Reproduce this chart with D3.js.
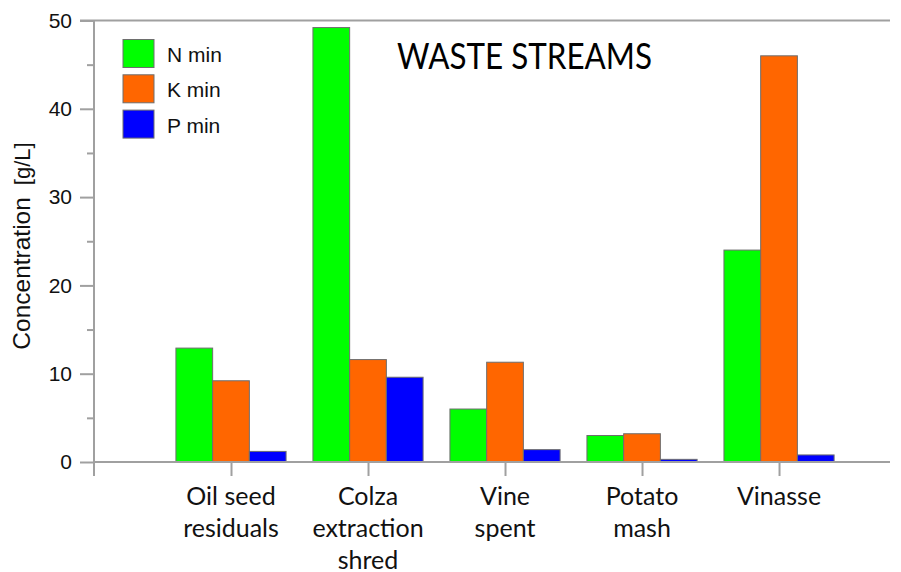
<!DOCTYPE html>
<html><head><meta charset="utf-8">
<script src="https://cdn.jsdelivr.net/npm/d3@7"></script>
<style>body{margin:0;background:#fff}svg{display:block}</style>
</head><body>
<svg id="c" width="901" height="572"></svg>
<script>
const categories = [["Oil seed","residuals"],["Colza","extraction","shred"],["Vine","spent"],["Potato","mash"],["Vinasse"]];
const seriesNames = ["N min","K min","P min"];
const seriesColors = ["#00ff00","#ff6600","#0000ff"];
const nMin = [12.9, 49.2, 6.0, 3.0, 24.0];
const kMin = [9.2, 11.6, 11.3, 3.2, 46.0];
const pMin = [1.2, 9.6, 1.4, 0.3, 0.8];
const yTicks = [0,10,20,30,40,50];
const yMinorTicks = [5,15,25,35,45];
const title = "WASTE STREAMS";
const yLabel = "Concentration";
const yUnit = "[g/L]";

const series = [nMin, kMin, pMin];
const svg = d3.select("#c");
const x = d3.scaleLinear().domain([0, 5.81]).range([94, 890]);
const y = d3.scaleLinear().domain([0, 50]).range([462, 20.5]);
const axisColor = "#a0a0a0";
const slot = x(1) - x(0);
const bw = slot * 0.268;

// top frame line
svg.append("line").attr("x1", 80).attr("x2", x(5.81)).attr("y1", y(50)).attr("y2", y(50))
  .attr("stroke", axisColor).attr("stroke-width", 2);

// bars
series.forEach((vals, s) => {
  svg.append("g").selectAll("rect").data(vals).join("rect")
    .attr("x", (d, i) => x(i + 1) - 1.5 * bw + s * bw)
    .attr("width", bw)
    .attr("y", d => y(d))
    .attr("height", d => y(0) - y(d))
    .attr("fill", seriesColors[s])
    .attr("stroke", "#6e6e6e").attr("stroke-width", 1);
});

// y axis
const yAxis = d3.axisLeft(y).tickValues(yTicks).tickSize(14).tickPadding(8).tickFormat(d3.format("d"));
const gy = svg.append("g").attr("transform", `translate(${x(0)},0)`).call(yAxis);
gy.select(".domain").remove();
gy.selectAll(".tick line").attr("stroke", axisColor).attr("stroke-width", 2);
gy.selectAll(".tick text").attr("font-family", "Liberation Sans, Arial, sans-serif").attr("font-size", 21).attr("fill", "#111");
const yAxisMinor = d3.axisLeft(y).tickValues(yMinorTicks).tickSize(7).tickFormat("");
const gym = svg.append("g").attr("transform", `translate(${x(0)},0)`).call(yAxisMinor);
gym.select(".domain").remove();
gym.selectAll(".tick line").attr("stroke", axisColor).attr("stroke-width", 2);
svg.append("line").attr("x1", x(0)).attr("x2", x(0)).attr("y1", y(50)).attr("y2", y(0) + 14)
  .attr("stroke", axisColor).attr("stroke-width", 2);

// x axis
svg.append("line").attr("x1", x(0)).attr("x2", x(5.81)).attr("y1", y(0)).attr("y2", y(0))
  .attr("stroke", axisColor).attr("stroke-width", 2);
const gx = svg.append("g").attr("transform", `translate(0,${y(0)})`)
  .call(d3.axisBottom(x).tickValues([1,2,3,4,5]).tickSize(14).tickFormat(""));
gx.select(".domain").remove();
gx.selectAll(".tick line").attr("stroke", axisColor).attr("stroke-width", 2);

// category labels
categories.forEach((lines, i) => {
  const t = svg.append("text").attr("text-anchor", "middle")
    .attr("font-family", "Lato, 'Open Sans', sans-serif").attr("font-size", 25).attr("fill", "#111");
  lines.forEach((l, j) => {
    t.append("tspan").attr("x", x(i + 1)).attr("y", 505 + j * 31.8).text(l);
  });
});

// y label
const yl = svg.append("text").attr("transform", "translate(30,246) rotate(-90)")
  .attr("text-anchor", "middle").attr("font-family", "Liberation Sans, Arial, sans-serif").attr("fill", "#111");
yl.append("tspan").attr("font-size", 24.5).text(yLabel);
yl.append("tspan").attr("font-size", 22).attr("dx", 12).text(yUnit);

// title
svg.append("text").attr("x", 397).attr("y", 69)
  .attr("font-family", "Lato, 'Open Sans', sans-serif").attr("font-size", 36)
  .attr("textLength", 255).attr("lengthAdjust", "spacingAndGlyphs").attr("fill", "#000").text(title);

// legend
const lg = svg.append("g");
seriesNames.forEach((n, s) => {
  lg.append("rect").attr("x", 123).attr("y", 39.5 + s * 35.3).attr("width", 31).attr("height", 28)
    .attr("fill", seriesColors[s]).attr("stroke", "#6e6e6e").attr("stroke-width", 1);
  lg.append("text").attr("x", 167).attr("y", 62 + s * 35.3)
    .attr("font-family", "Liberation Sans, Arial, sans-serif").attr("font-size", 21).attr("fill", "#111").text(n);
});
</script>
</body></html>
